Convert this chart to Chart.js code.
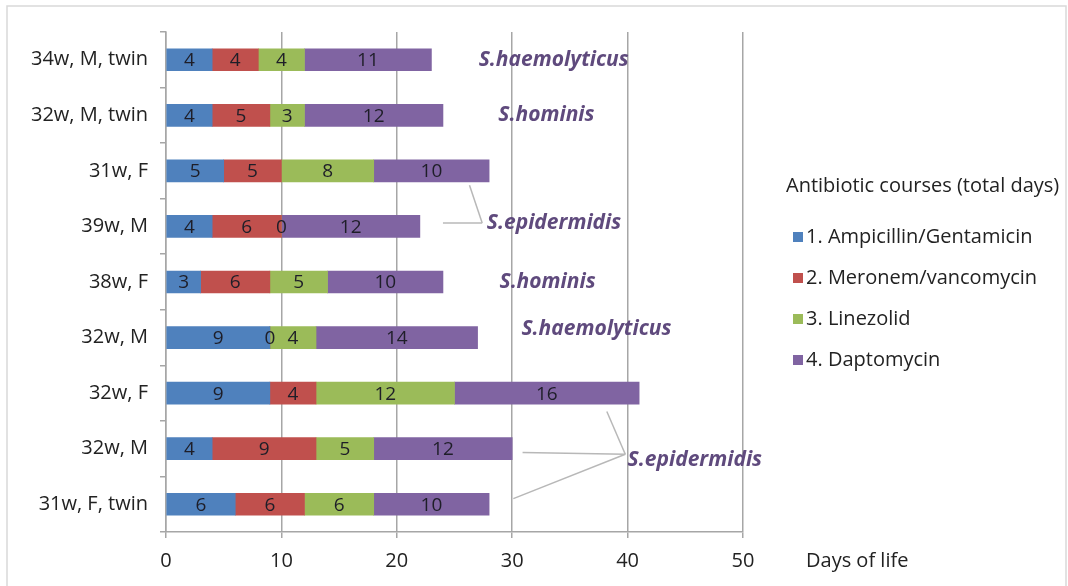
<!DOCTYPE html>
<html>
<head>
<meta charset="utf-8">
<script src="https://cdn.jsdelivr.net/npm/chart.js@4.4.1/dist/chart.umd.min.js"></script>
<style>
  html, body { margin: 0; padding: 0; background: #fff; }
  #wrap { position: relative; width: 1068px; height: 586px; }
</style>
</head>
<body>
<div id="wrap"><canvas id="c" width="1068" height="586"></canvas></div>
<script>
const categories = ["34w, M, twin", "32w, M, twin", "31w, F", "39w, M", "38w, F", "32w, M", "32w, F", "32w, M", "31w, F, twin"];
const seriesNames = ["1. Ampicillin/Gentamicin", "2. Meronem/vancomycin", "3. Linezolid", "4. Daptomycin"];
const ampicillin = [4, 4, 5, 4, 3, 9, 9, 4, 6];
const meronem    = [4, 5, 5, 6, 6, 0, 4, 9, 6];
const linezolid  = [4, 3, 8, 0, 5, 4, 12, 5, 6];
const daptomycin = [11, 12, 10, 12, 10, 14, 16, 12, 10];
const xTicks = [0, 10, 20, 30, 40, 50];
const legendTitle = "Antibiotic courses (total days)";
const xAxisLabel = "Days of life";
const organisms = ["S.haemolyticus", "S.hominis", "S.epidermidis", "S.hominis", "S.haemolyticus", "S.epidermidis"];

const colors = ["#4f81bd", "#c0504d", "#9bbb59", "#8064a2"];
const FONT = "'Open Sans', sans-serif";

// annotation placement (data units: x value, fractional category index)
const annotPos = [[27.1, 0], [28.8, 1], [27.8, 2.94], [28.9, 4.0], [30.8, 4.85], [40.0, 7.2]];
const connectors = [
  [[24.0, 2.94], [27.4, 2.94]], [[27.4, 2.94], [26.3, 2.26]],
  [[38.2, 6.33], [39.8, 7.1]], [[30.9, 7.07], [39.8, 7.1]], [[30.1, 7.9], [39.8, 7.1]]
];

const decorPlugin = {
  id: 'decor',
  beforeDraw(chart) {
    const ctx = chart.ctx;
    ctx.save();
    ctx.fillStyle = '#fff';
    ctx.fillRect(0, 0, chart.width, chart.height);
    ctx.strokeStyle = '#d9d9d9';
    ctx.lineWidth = 1.5;
    ctx.beginPath();
    ctx.moveTo(7, 590); ctx.lineTo(7, 6); ctx.lineTo(1066, 6); ctx.lineTo(1066, 590);
    ctx.stroke();
    ctx.restore();
  },
  afterDatasetsDraw(chart) {
    const ctx = chart.ctx;
    const xs = chart.scales.x, ys = chart.scales.y;
    ctx.save();
    // value labels
    ctx.font = "19px " + FONT;
    ctx.fillStyle = '#1e1e28';
    ctx.textAlign = 'center';
    ctx.textBaseline = 'middle';
    chart.data.datasets.forEach((ds, di) => {
      chart.getDatasetMeta(di).data.forEach((el, i) => {
        const p = el.getCenterPoint();
        ctx.fillText(String(ds.data[i]), p.x, p.y + 1);
      });
    });
    // connectors
    ctx.strokeStyle = '#b8b8b8';
    ctx.lineWidth = 1.5;
    connectors.forEach(([a, b]) => {
      ctx.beginPath();
      ctx.moveTo(xs.getPixelForValue(a[0]), ys.getPixelForValue(a[1]));
      ctx.lineTo(xs.getPixelForValue(b[0]), ys.getPixelForValue(b[1]));
      ctx.stroke();
    });
    // organism annotations
    ctx.font = "italic bold 21px " + FONT;
    ctx.fillStyle = '#5f4a7d';
    ctx.textAlign = 'left';
    organisms.forEach((t, i) => {
      ctx.fillText(t, xs.getPixelForValue(annotPos[i][0]), ys.getPixelForValue(annotPos[i][1]));
    });
    // axis label
    ctx.font = "20px " + FONT;
    ctx.fillStyle = '#222';
    ctx.fillText(xAxisLabel, 806, 561);
    // legend
    ctx.fillText(legendTitle, 786, 186);
    seriesNames.forEach((n, i) => {
      const y = 237 + i * 41;
      ctx.fillStyle = colors[i];
      ctx.fillRect(793, y - 5, 10, 10);
      ctx.fillStyle = '#222';
      ctx.fillText(n, 806, y);
    });
    ctx.restore();
  }
};

new Chart(document.getElementById('c'), {
  type: 'bar',
  data: {
    labels: categories,
    datasets: [ampicillin, meronem, linezolid, daptomycin].map((d, i) => ({
      label: seriesNames[i],
      data: d,
      backgroundColor: colors[i],
      borderWidth: 0,
      barThickness: 22
    }))
  },
  options: {
    indexAxis: 'y',
    responsive: false,
    animation: false,
    layout: { padding: { left: 16, right: 325, top: 32, bottom: 10 } },
    plugins: { legend: { display: false }, tooltip: { enabled: false } },
    scales: {
      x: {
        stacked: true,
        min: 0, max: 50,
        afterBuildTicks: (s) => { s.ticks = xTicks.map(v => ({ value: v })); },
        afterFit: (s) => { s.height = 44; },
        ticks: { font: { size: 20, family: FONT }, color: '#222', padding: 11 },
        grid: { color: '#a6a6a6', lineWidth: 1.5, tickLength: 6, drawTicks: true },
        border: { color: '#a6a6a6', width: 1.5 }
      },
      y: {
        stacked: true,
        afterFit: (s) => { s.width = 150; },
        ticks: { font: { size: 20, family: FONT }, color: '#222', padding: 12 },
        grid: { drawOnChartArea: false, drawTicks: true, tickLength: 6, color: '#a6a6a6', lineWidth: 1.5, offset: true },
        border: { color: '#a6a6a6', width: 1.5 }
      }
    }
  },
  plugins: [decorPlugin]
});
</script>
</body>
</html>
